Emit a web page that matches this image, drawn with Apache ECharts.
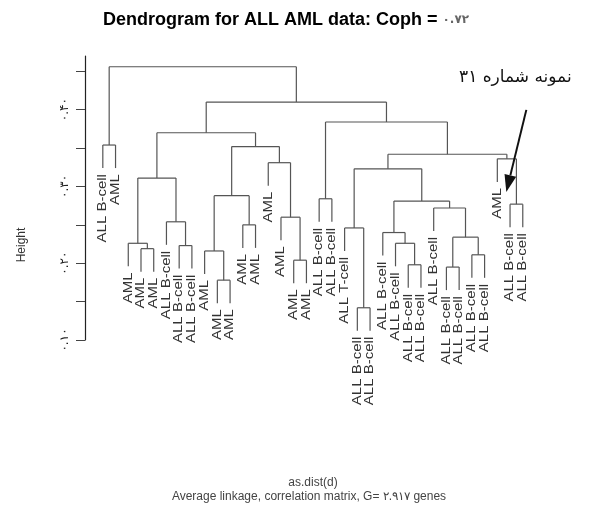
<!DOCTYPE html>
<html>
<head>
<meta charset="utf-8">
<script src="https://cdn.jsdelivr.net/npm/echarts@6/dist/echarts.min.js"></script>
<style>
  html, body { margin: 0; padding: 0; background: #fff; }
  #chart { width: 597px; height: 507px; }
</style>
</head>
<body>
<div id="chart"></div>
<script>
// leaves in plotting order (left -> right)
const leafLabels = [
  'ALL B-cell', 'AML', 'AML', 'AML', 'AML', 'ALL B-cell', 'ALL B-cell', 'ALL B-cell',
  'AML', 'AML', 'AML', 'AML', 'AML', 'AML', 'AML', 'AML', 'AML',
  'ALL B-cell', 'ALL B-cell', 'ALL T-cell', 'ALL B-cell', 'ALL B-cell',
  'ALL B-cell', 'ALL B-cell', 'ALL B-cell', 'ALL B-cell', 'ALL B-cell',
  'ALL B-cell', 'ALL B-cell', 'ALL B-cell', 'ALL B-cell', 'AML', 'ALL B-cell', 'ALL B-cell'
];

// merge steps, R style: negative = leaf (1-based position), positive = earlier step
const mergeLeft   = [-4, -3, -7, -6, 2, -10, -9, -12, 7, -16, -15, -14, 9, 5, -18, -21, -20,
                     -25, -24, -23, -28, -30, 21, -27, 20, 17, -33, -32, 26, 15, 14, -1, 32];
const mergeRight  = [-5, 1, -8, 3, 4, -11, 6, -13, 8, -17, 10, 11, 12, 13, -19, -22, 16,
                     -26, 18, 19, -29, -31, 22, 23, 24, 25, -34, 27, 28, 29, 30, -2, 31];
const mergeHeight = [0.219, 0.226, 0.223, 0.254, 0.311, 0.178, 0.216, 0.250, 0.288, 0.204,
                     0.260, 0.331, 0.352, 0.370, 0.284, 0.142, 0.246, 0.198, 0.226, 0.240,
                     0.195, 0.211, 0.234, 0.272, 0.281, 0.323, 0.277, 0.336, 0.342, 0.384,
                     0.410, 0.354, 0.456];

const yTickValues  = [0.10, 0.15, 0.20, 0.25, 0.30, 0.35, 0.40, 0.45];
const yLabelValues = [0.10, 0.20, 0.30, 0.40];
const yLabelTexts  = ['۰.۱۰', '۰.۲۰', '۰.۳۰', '۰.۴۰'];

const noteLeaf = 31;
const noteText = 'نمونه شماره ۳۱';

const HANG = 0.03;

// build segments from the merge table
const nodes = [];
const leafEnd = new Array(leafLabels.length).fill(0);
const segments = [];
function info(ref) {
  if (ref < 0) return { x: -ref - 1, leaf: true };
  return nodes[ref - 1];
}
for (let k = 0; k < mergeHeight.length; k++) {
  const h = mergeHeight[k];
  const l = info(mergeLeft[k]);
  const r = info(mergeRight[k]);
  segments.push([l.x, h, r.x, h]);
  [l, r].forEach(c => {
    if (c.leaf) {
      leafEnd[c.x] = h - HANG;
      segments.push([c.x, h, c.x, h - HANG]);
    } else {
      segments.push([c.x, h, c.x, c.h]);
    }
  });
  nodes.push({ x: (l.x + r.x) / 2, h: h, leaf: false });
}
const labelData = leafLabels.map((t, i) => [i, leafEnd[i], t]);

const chart = echarts.init(document.getElementById('chart'));
chart.setOption({
  animation: false,
  title: {
    text: '{a|Dendrogram for ALL AML data: Coph = }{b|۰.۷۲}',
    left: 98,
    top: 6,
    textStyle: {
      rich: {
        a: { fontSize: 18, fontWeight: 'bold', fontFamily: 'Liberation Sans', color: '#000' },
        b: { fontSize: 12, fontFamily: 'DejaVu Sans', color: '#666' }
      }
    }
  },
  grid: { left: 85, right: 61.5, top: 56, bottom: 167 },
  xAxis: { type: 'value', min: -1.4, max: 34, show: false },
  yAxis: {
    type: 'value',
    min: 0.1,
    max: 0.47,
    axisLine: { show: true, onZero: false, lineStyle: { color: '#222', width: 1.2 } },
    axisTick: { show: true, length: 9, customValues: yTickValues, lineStyle: { color: '#444' } },
    axisLabel: {
      customValues: yLabelValues,
      formatter: v => {
        const i = yLabelValues.findIndex(t => Math.abs(t - v) < 1e-6);
        return i >= 0 ? yLabelTexts[i] : '';
      },
      rotate: 90,
      margin: 14,
      fontSize: 12,
      fontFamily: 'DejaVu Sans',
      color: '#222'
    },
    splitLine: { show: false }
  },
  graphic: [
    {
      type: 'text', x: 22, y: 245, rotation: Math.PI / 2,
      style: { text: 'Height', textAlign: 'center', textVerticalAlign: 'middle',
               fontSize: 12, fontFamily: 'Liberation Sans', fill: '#333' }
    },
    {
      type: 'text', x: 313, y: 483,
      style: { text: 'as.dist(d)', textAlign: 'center', textVerticalAlign: 'middle',
               fontSize: 12, fontFamily: 'Liberation Sans', fill: '#444' }
    },
    {
      type: 'text', x: 309, y: 497,
      style: { text: 'Average linkage, correlation matrix, G= ۲.۹۱۷ genes', textAlign: 'center',
               textVerticalAlign: 'middle', fontSize: 12, fontFamily: 'Liberation Sans', fill: '#444' }
    }
  ],
  series: [
    {
      type: 'custom',
      silent: true,
      clip: false,
      data: segments,
      renderItem: (params, api) => {
        const p1 = api.coord([api.value(0), api.value(1)]);
        const p2 = api.coord([api.value(2), api.value(3)]);
        return {
          type: 'line',
          shape: { x1: p1[0], y1: p1[1], x2: p2[0], y2: p2[1] },
          style: { stroke: '#555', lineWidth: 1.2 }
        };
      }
    },
    {
      type: 'custom',
      silent: true,
      clip: false,
      data: labelData,
      renderItem: (params, api) => {
        const p = api.coord([api.value(0), api.value(1)]);
        return {
          type: 'text',
          x: p[0],
          y: p[1] + 6,
          rotation: Math.PI / 2,
          scaleX: 1.25,
          style: {
            text: labelData[params.dataIndex][2],
            textAlign: 'right',
            textVerticalAlign: 'middle',
            fontSize: 12,
            fontFamily: 'Liberation Sans',
            fill: '#333'
          }
        };
      }
    },
    {
      type: 'custom',
      silent: true,
      clip: false,
      data: [[noteLeaf, leafEnd[noteLeaf]]],
      renderItem: (params, api) => {
        const p = api.coord([api.value(0), api.value(1)]);
        const tip = [p[0] + 9, p[1] + 10];
        const tail = [p[0] + 29, p[1] - 72];
        const dx = tip[0] - tail[0], dy = tip[1] - tail[1];
        const len = Math.sqrt(dx * dx + dy * dy);
        const ux = dx / len, uy = dy / len;
        const base = [tip[0] - 17 * ux, tip[1] - 17 * uy];
        const px = -uy, py = ux;
        return {
          type: 'group',
          children: [
            {
              type: 'line',
              shape: { x1: tail[0], y1: tail[1], x2: base[0], y2: base[1] },
              style: { stroke: '#111', lineWidth: 2 }
            },
            {
              type: 'polygon',
              shape: { points: [tip, [base[0] + 6 * px, base[1] + 6 * py], [base[0] - 6 * px, base[1] - 6 * py]] },
              style: { fill: '#111' }
            },
            {
              type: 'text',
              x: p[0] + 18,
              y: p[1] - 104,
              style: { text: noteText, textAlign: 'center', textVerticalAlign: 'middle',
                       fontSize: 17, fontFamily: 'DejaVu Sans', fill: '#111' }
            }
          ]
        };
      }
    }
  ]
});
</script>
</body>
</html>
